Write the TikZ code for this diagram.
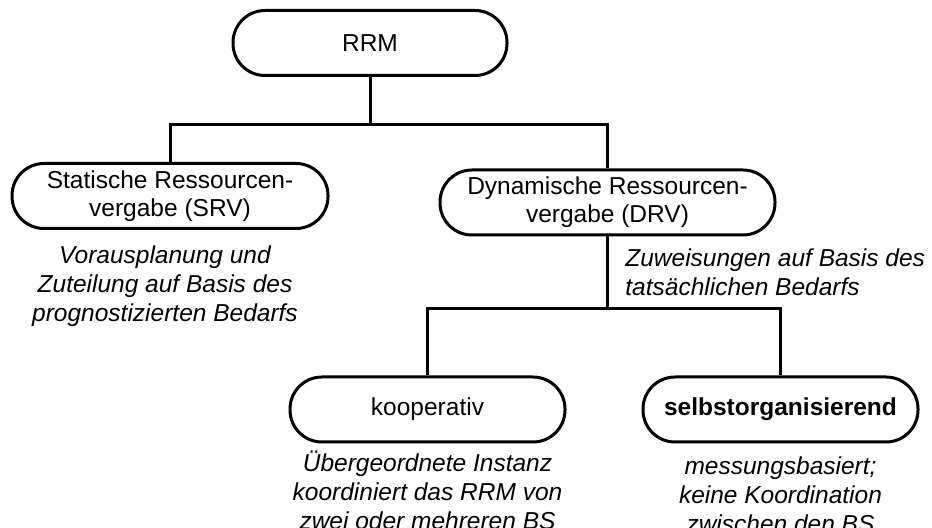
\documentclass[tikz,border=0pt]{standalone}
\usepackage{fontspec}
\setmainfont{Liberation Sans}
\usetikzlibrary{positioning}
\tikzset{
  rrmbox/.style={
    draw=black,
    line width=1.5pt,
    rounded corners=16pt,
    minimum height=32.5pt,
    inner sep=0pt,
    align=center,
    font=\fontsize{12.25}{14}\selectfont
  },
  notetext/.style={
    inner sep=0pt,
    align=center,
    font=\fontsize{12.25}{14.5}\selectfont\itshape
  },
  treeline/.style={line width=1.5pt,draw=black}
}

\begin{document}
\begin{tikzpicture}[x=0.5pt,y=-0.5pt]
\useasboundingbox (0,0) rectangle (932,528);
\node[rrmbox,minimum width=137pt] (rrm) at (370,43) {RRM};
\node[rrmbox,minimum width=158pt] (srv) at (170,196) {Statische Ressourcen-\\vergabe (SRV)};
\node[rrmbox,minimum width=167.5pt] (drv) at (607.5,202.5) {Dynamische Ressourcen-\\vergabe (DRV)};
\node[rrmbox,minimum width=137.5pt] (koop) at (427.5,409.5) {kooperativ};
\node[rrmbox,minimum width=137.5pt] (selbst) at (780.5,409.5) {\textbf{selbstorganisierend}};

\node[notetext,below=7.5pt of srv,xshift=-2.5pt] (srvnote) {Vorausplanung und\\Zuteilung auf Basis des\\prognostizierten Bedarfs};
\node[notetext,align=left,below right=5.75pt and 8.75pt of drv.south] (drvnote) {Zuweisungen auf Basis des\\tatsächlichen Bedarfs};
\node[notetext,below=3.5pt of koop] (koopnote) {Übergeordnete Instanz\\koordiniert das RRM von\\zwei oder mehreren BS};
\node[notetext,below=6.5pt of selbst] (selbstnote) {messungsbasiert;\\keine Koordination\\zwischen den BS};

\draw[treeline] (rrm.south) -- ++(0,48) coordinate (rrmsplit) -| (srv.north);
\draw[treeline] (rrmsplit) -| (drv.north);
\draw[treeline] (drv.south) -- ++(0,72) coordinate (drvsplit) -| (koop.north);
\draw[treeline] (drvsplit) -| (selbst.north);
\end{tikzpicture}
\end{document}
